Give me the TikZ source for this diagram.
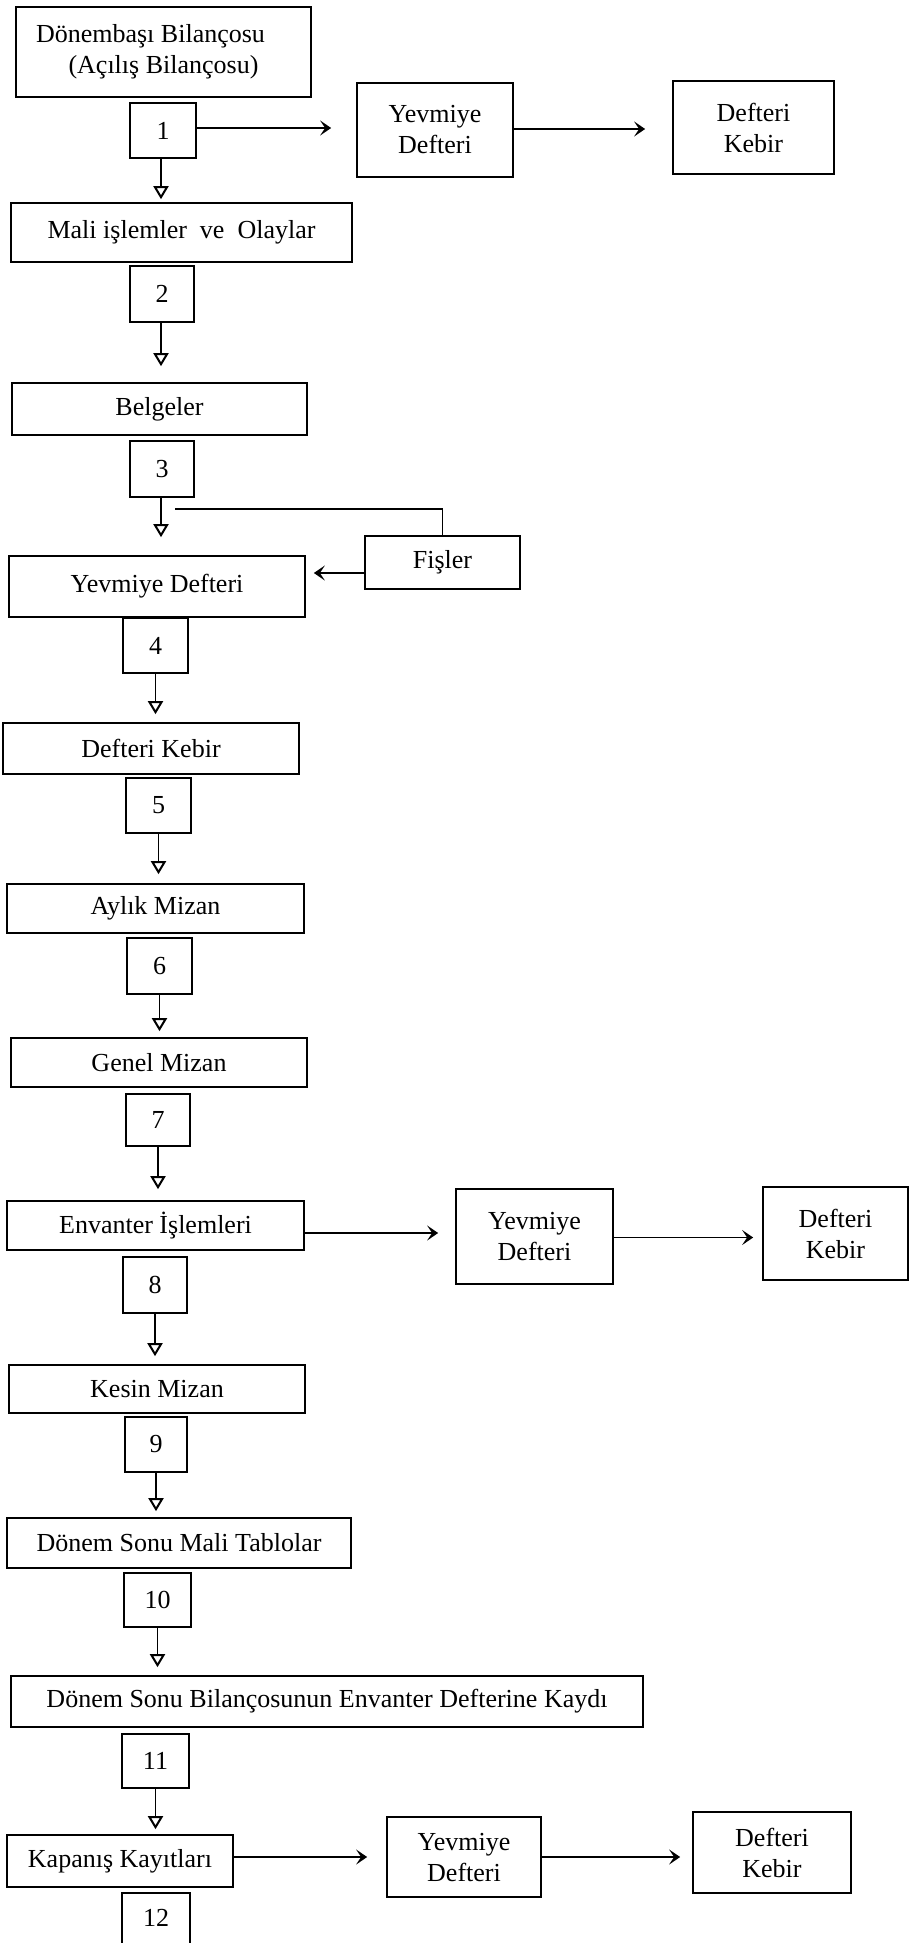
\documentclass[tikz,border=0pt]{standalone}
\usepackage{fontspec}
\setmainfont{Liberation Serif}
\usetikzlibrary{arrows.meta}
\begin{document}
\begin{tikzpicture}[x=0.5pt,y=-0.5pt,
  box/.style={draw, line width=0.85pt, inner sep=0pt, align=center, font=\fontsize{13}{15.5}\selectfont},
  harr/.style={line width=0.8pt, -{Stealth[length=5.5pt,width=7.5pt,inset=2.5pt]}},
  varr/.style={line width=0.6pt, -{Triangle[open,length=6.5pt,width=7.5pt,line width=1pt]}},
  plain/.style={line width=0.8pt}]
\useasboundingbox[fill=white] (0,0) rectangle (910,1943);
% main column and side boxes
\node[box, minimum width=147.5pt, minimum height=45pt] (bas) at (163.5,52) {Dönembaşı Bilançosu\hspace*{13pt}\\(Açılış Bilançosu)};
\node[box, minimum width=33pt, minimum height=27.5pt] (n1) at (163,130.5) {1};
\node[box, minimum width=78pt, minimum height=47pt] (y1) at (435,130) {Yevmiye\\Defteri};
\node[box, minimum width=80.5pt, minimum height=46.5pt] (k1) at (753.5,127.5) {Defteri\\Kebir};
\node[box, minimum width=170.5pt, minimum height=29.5pt] (mali) at (181.5,232.5) {Mali işlemler\ \ ve\ \ Olaylar};
\node[box, minimum width=32pt, minimum height=28pt] (n2) at (162,294) {2};
\node[box, minimum width=147.5pt, minimum height=26pt] (belge) at (159.5,409) {Belgeler};
\node[box, minimum width=32pt, minimum height=28pt] (n3) at (162,469) {3};
\node[box, minimum width=77.5pt, minimum height=26.5pt] (fis) at (442.5,562.5) {Fişler};
\node[box, minimum width=148pt, minimum height=30.5pt] (yev) at (157,586.5) {Yevmiye Defteri};
\node[box, minimum width=32.5pt, minimum height=27.5pt] (n4) at (155.5,645.5) {4};
\node[box, minimum width=148pt, minimum height=25.5pt] (kebir) at (151,748.5) {Defteri Kebir};
\node[box, minimum width=32.5pt, minimum height=27.5pt] (n5) at (158.5,805.5) {5};
\node[box, minimum width=148.5pt, minimum height=24.5pt] (aylik) at (155.5,908.5) {Aylık Mizan};
\node[box, minimum width=32.5pt, minimum height=28pt] (n6) at (159.5,966) {6};
\node[box, minimum width=148pt, minimum height=24.5pt] (genel) at (159,1062.5) {Genel Mizan};
\node[box, minimum width=32pt, minimum height=26pt] (n7) at (158,1120) {7};
\node[box, minimum width=148.5pt, minimum height=24.5pt] (env) at (155.5,1225.5) {Envanter İşlemleri};
\node[box, minimum width=32pt, minimum height=28pt] (n8) at (155,1285) {8};
\node[box, minimum width=78.5pt, minimum height=47.5pt] (y3) at (534.5,1236.5) {Yevmiye\\Defteri};
\node[box, minimum width=72.5pt, minimum height=46.5pt] (k3) at (835.5,1233.5) {Defteri\\Kebir};
\node[box, minimum width=148pt, minimum height=24pt] (kesin) at (157,1389) {Kesin Mizan};
\node[box, minimum width=31pt, minimum height=27.5pt] (n9) at (156,1444.5) {9};
\node[box, minimum width=172pt, minimum height=25pt] (donem) at (179,1543) {Dönem Sonu Mali Tablolar};
\node[box, minimum width=33.5pt, minimum height=27pt] (n10) at (157.5,1600) {10};
\node[box, minimum width=316pt, minimum height=25.5pt] (bil) at (327,1701.5) {Dönem Sonu Bilançosunun Envanter Defterine Kaydı};
\node[box, minimum width=33.5pt, minimum height=27pt] (n11) at (155.5,1761) {11};
\node[box, minimum width=113pt, minimum height=26pt] (kap) at (120,1861) {Kapanış Kayıtları};
\node[box, minimum width=34pt, minimum height=41pt] (n12) at (156,1934) {};
\node[font=\fontsize{13}{15.5}\selectfont, inner sep=0pt] (t12) at (156,1918) {12};
\node[box, minimum width=77pt, minimum height=40pt] (y4) at (464,1857) {Yevmiye\\Defteri};
\node[box, minimum width=79pt, minimum height=40.5pt] (k4) at (772,1852.5) {Defteri\\Kebir};
% vertical arrows
\draw[varr, shorten >=1.5pt] ([xshift=-1pt]n1.south) -- ([xshift=-1pt]n1.south |- mali.north);
\draw[varr, shorten >=8pt] ([xshift=-0.5pt]n2.south) -- ([xshift=-0.5pt]n2.south |- belge.north);
\draw[varr, shorten >=9pt] ([xshift=-0.5pt]n3.south) -- ([xshift=-0.5pt]n3.south |- yev.north);
\draw[varr, shorten >=4pt] (n4.south) -- (n4.south |- kebir.north);
\draw[varr, shorten >=4.5pt] (n5.south) -- (n5.south |- aylik.north);
\draw[varr, shorten >=3pt] (n6.south) -- (n6.south |- genel.north);
\draw[varr, shorten >=5.5pt] (n7.south) -- (n7.south |- env.north);
\draw[varr, shorten >=4pt] (n8.south) -- (n8.south |- kesin.north);
\draw[varr, shorten >=3pt] (n9.south) -- (n9.south |- donem.north);
\draw[varr, shorten >=4pt] (n10.south) -- (n10.south |- bil.north);
\draw[varr, shorten >=2.5pt] (n11.south) -- (n11.south |- kap.north);
% horizontal arrows
\draw[harr, shorten >=12.5pt] ([yshift=1.25pt]n1.east) -- ([yshift=1.25pt]n1.east -| y1.west);
\draw[harr, shorten >=13.5pt] ([yshift=0.5pt]y1.east) -- ([yshift=0.5pt]y1.east -| k1.west);
\draw[harr, shorten >=4pt] ([yshift=-5.25pt]fis.west) -- ([yshift=-5.25pt]fis.west -| yev.east);
\draw[harr, shorten >=8.5pt] ([yshift=-3.75pt]env.east) -- ([yshift=-3.75pt]env.east -| y3.west);
\draw[harr, shorten >=4.5pt] ([yshift=-0.5pt]y3.east) -- ([yshift=-0.5pt]y3.east -| k3.west);
\draw[harr, shorten >=9.5pt] ([yshift=2pt]kap.east) -- ([yshift=2pt]kap.east -| y4.west);
\draw[harr, shorten >=6pt] (y4.east) -- (y4.east -| k4.west);
% Fisler feed line
\coordinate (fj) at (175,509);
\draw[plain] (fis.north) |- (fj);
\end{tikzpicture}
\end{document}
